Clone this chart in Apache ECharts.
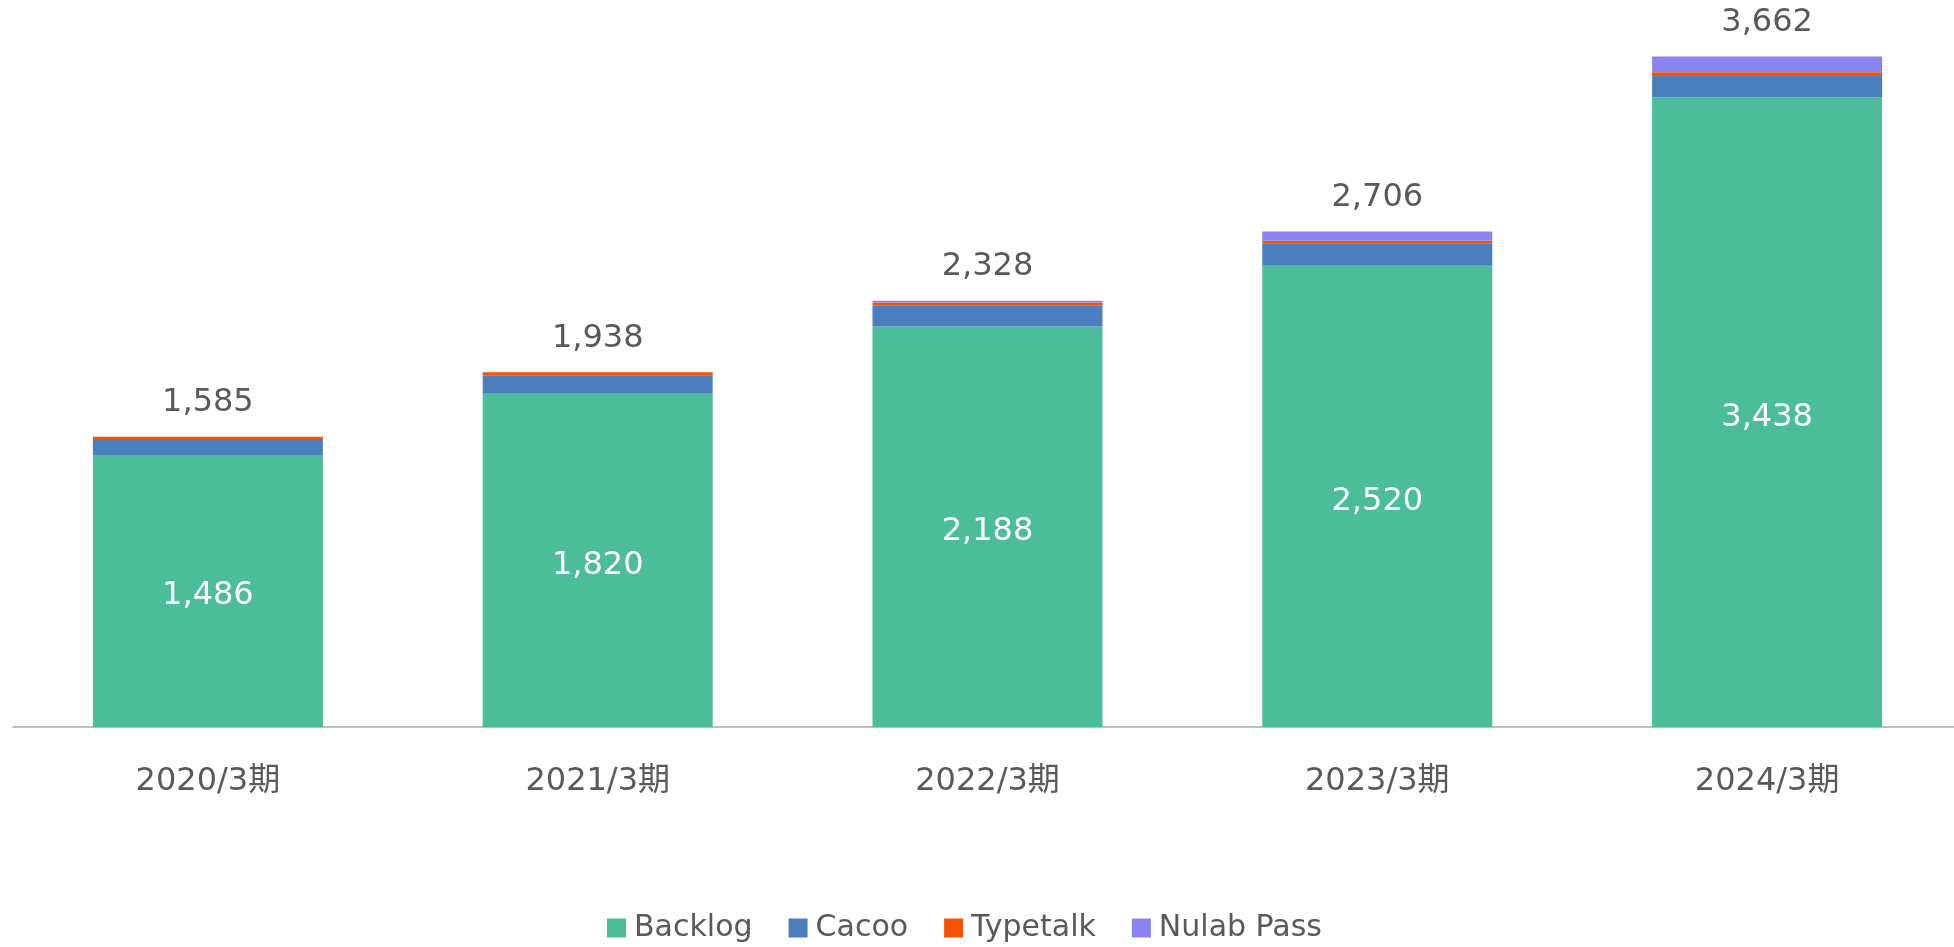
<!DOCTYPE html>
<html>
<head>
<meta charset="utf-8">
<title>Nulab users</title>
<script src="https://cdn.jsdelivr.net/npm/echarts@6/dist/echarts.min.js"></script>
<style>
  html, body { margin: 0; padding: 0; background: #fff; }
  #chart { width: 1954px; height: 947px; }
</style>
</head>
<body>
<div id="chart"></div>
<script>
var categories = ['2020/3期', '2021/3期', '2022/3期', '2023/3期', '2024/3期'];
var backlog = [1486, 1820, 2188, 2520, 3438];
var cacoo = [87, 102, 115, 119, 118];
var typetalk = [12, 16, 16, 17, 20];
var nulabPass = [0, 0, 9, 50, 86];
var totals = [1585, 1938, 2328, 2706, 3662];

var font = "'DejaVu Sans', 'Noto Sans CJK JP', sans-serif";
var textColor = '#595959';

function fmt(v) {
  return Number(v).toLocaleString('en-US');
}

var myChart = echarts.init(document.getElementById('chart'));
var option = {
  backgroundColor: '#ffffff',
  animation: false,
  textStyle: { fontFamily: font },
  legend: {
    data: ['Backlog', 'Cacoo', 'Typetalk', 'Nulab Pass'],
    left: 602,
    top: 908,
    icon: 'rect',
    itemWidth: 19,
    itemHeight: 19,
    itemGap: 36,
    textStyle: {
      color: textColor,
      fontSize: 30,
      fontFamily: font,
      padding: [0, 0, 0, 3]
    }
  },
  grid: {
    left: 13,
    right: -8,
    top: 13,
    bottom: 220,
    containLabel: false,
    outerBoundsMode: 'none'
  },
  xAxis: {
    type: 'category',
    data: categories,
    axisTick: { show: false },
    axisLine: {
      lineStyle: { color: '#bfbfbf', width: 2 }
    },
    axisLabel: {
      color: textColor,
      fontSize: 32,
      fontFamily: font,
      margin: 39
    }
  },
  yAxis: {
    type: 'value',
    min: 0,
    max: 3900,
    show: false,
    splitLine: { show: false }
  },
  series: [
    {
      name: 'Backlog',
      type: 'bar',
      stack: 'users',
      barWidth: 230,
      itemStyle: { color: '#4bbd9a' },
      label: {
        show: true,
        position: 'inside',
        offset: [0, 5],
        color: '#ffffff',
        fontSize: 32,
        fontFamily: font,
        formatter: function (p) { return fmt(p.value); }
      },
      data: backlog
    },
    {
      name: 'Cacoo',
      type: 'bar',
      stack: 'users',
      itemStyle: { color: '#4a7ebf' },
      data: cacoo
    },
    {
      name: 'Typetalk',
      type: 'bar',
      stack: 'users',
      itemStyle: { color: '#f65200' },
      data: typetalk
    },
    {
      name: 'Nulab Pass',
      type: 'bar',
      stack: 'users',
      itemStyle: { color: '#8a84f3' },
      label: {
        show: true,
        position: 'top',
        distance: 18,
        color: textColor,
        fontSize: 32,
        fontFamily: font,
        formatter: function (p) { return fmt(totals[p.dataIndex]); }
      },
      data: nulabPass
    }
  ]
};
myChart.setOption(option);
window.addEventListener('resize', function () {
  myChart.resize();
});
</script>
</body>
</html>
